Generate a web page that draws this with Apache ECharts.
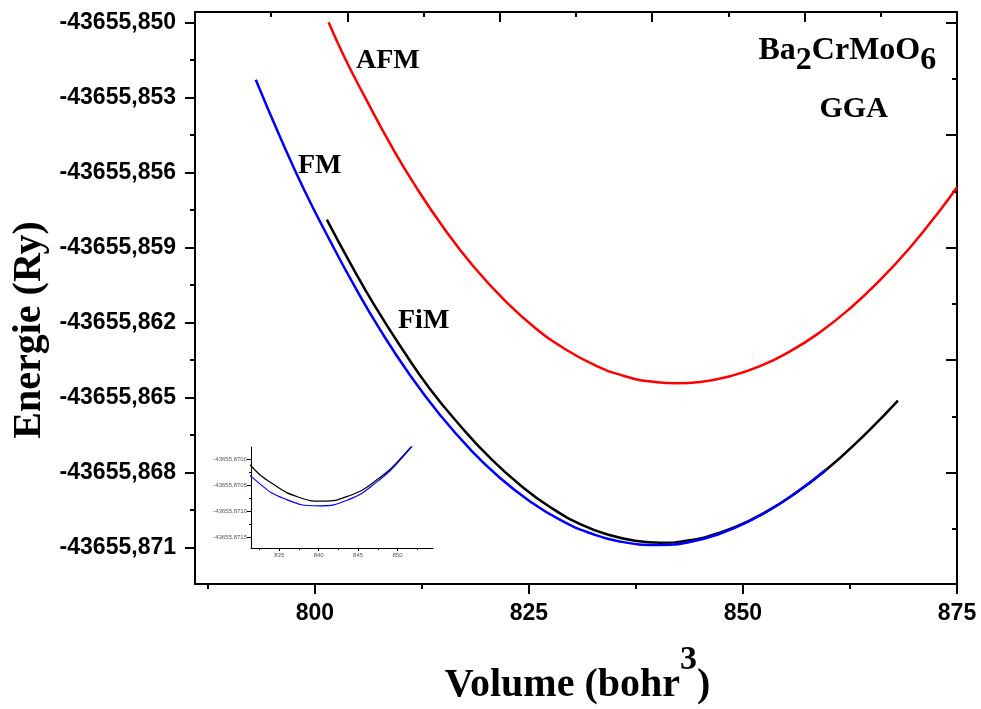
<!DOCTYPE html>
<html>
<head>
<meta charset="utf-8">
<script src="https://cdn.jsdelivr.net/npm/echarts@6/dist/echarts.min.js"></script>
<style>html,body{margin:0;padding:0;background:#fff}#c{width:981px;height:709px}</style>
</head>
<body>
<div id="c"></div>
<script>
// ---- data (volume in bohr^3, energy in Ry) ----
const volFM  = [793.1, 795.9, 798.8, 801.8, 804.7, 807.6, 811.1, 814.6, 818.1, 821.6, 825.1, 828.6, 832.1, 835.6, 840.0, 843.8, 847.3, 850.8, 854.3, 857.8, 859.7];
const eFM    = [-43655.85228, -43655.85454, -43655.85672, -43655.85874, -43655.86058, -43655.86227, -43655.86409, -43655.86568, -43655.86705, -43655.86820, -43655.86914, -43655.86988, -43655.87041, -43655.87075, -43655.87089, -43655.87077, -43655.87044, -43655.86993, -43655.86924, -43655.86839, -43655.86787];
const volFiM = [801.4, 804.1, 807.0, 810.3, 813.4, 817.0, 820.5, 824.0, 827.5, 831.4, 834.5, 837.4, 840.4, 843.8, 847.3, 850.8, 854.3, 857.8, 861.3, 864.8, 868.1];
const eFiM   = [-43655.85788, -43655.85960, -43655.86133, -43655.86310, -43655.86463, -43655.86613, -43655.86742, -43655.86850, -43655.86938, -43655.87012, -43655.87050, -43655.87072, -43655.87080, -43655.87070, -43655.87040, -43655.86991, -43655.86924, -43655.86841, -43655.86742, -43655.86629, -43655.86512];
const volAFM = [801.6, 803.5, 805.9, 808.8, 811.7, 815.2, 818.7, 822.2, 825.7, 829.2, 832.7, 836.2, 839.7, 842.3, 845.0, 848.5, 852.0, 855.5, 859.0, 862.5, 866.0, 869.5, 873.0, 875.0];
const eAFM   = [-43655.84998, -43655.85141, -43655.85301, -43655.85485, -43655.85651, -43655.85828, -43655.85982, -43655.86112, -43655.86220, -43655.86305, -43655.86370, -43655.86414, -43655.86437, -43655.86442, -43655.86437, -43655.86414, -43655.86374, -43655.86315, -43655.86238, -43655.86143, -43655.86030, -43655.85900, -43655.85751, -43655.85658];

const xTickLabels = [800, 825, 850, 875];
const xMinorTicks = [787.5, 812.5, 837.5, 862.5];
const yTickLabels = [-43655.850, -43655.853, -43655.856, -43655.859, -43655.862, -43655.865, -43655.868, -43655.871];
const yMinorTicks = [-43655.8515, -43655.8545, -43655.8575, -43655.8605, -43655.8635, -43655.8665, -43655.8695];
const topMajorTicks = [786, 803.8, 821.6, 839.4, 857.2, 875];
const topMinorTicks = [794.9, 812.7, 830.5, 848.3, 866.1];
const rightMajorTicks = [-43655.850, -43655.8545, -43655.859, -43655.8635, -43655.868, -43655.8725];
const rightMinorTicks = [-43655.85225, -43655.85675, -43655.86125, -43655.86575, -43655.87025];
const insetXTickLabels = [835, 840, 845, 850];
const insetXMinorTicks = [832.5, 837.5, 842.5, 847.5, 852.5];
const insetYTickLabels = [-43655.8700, -43655.8705, -43655.8710, -43655.8715];
const insetYMinorTicks = [-43655.87025, -43655.87075, -43655.87125];

const zip = (a, b) => a.map((v, i) => [v, b[i]]);

const X_MIN = 786, X_MAX = 875;
const Y_MAX = -43655.849572, Y_MIN = -43655.872452;
const IX_MIN = 831.42, IX_MAX = 854.5;
const IY_MIN = -43655.8717, IY_MAX = -43655.86976;

const SANS = '"Liberation Sans", Arial, sans-serif';
const SERIF = '"Liberation Serif", "Times New Roman", serif';

const mctx = document.createElement('canvas').getContext('2d');
function tw(text, font) { mctx.font = font; return mctx.measureText(text).width; }

function ax(extra) {
  return Object.assign({
    type: 'value',
    splitLine: { show: false },
    axisLine: { show: false, onZero: false },
    axisTick: { show: false },
    axisLabel: { show: false }
  }, extra);
}
const mainLine = { show: true, onZero: false, lineStyle: { color: '#000', width: 2 } };
const insetLine = { show: true, onZero: false, lineStyle: { color: '#000', width: 1 } };
function ticks(vals, len, inside, w) {
  return { show: true, customValues: vals, length: len, inside: !!inside, lineStyle: { color: '#000', width: w || 2 } };
}
function txt(text, x, baseline, size, align) {
  return { type: 'text', x: x, y: baseline - 0.3375 * size,
    style: { text: text, font: 'bold ' + size + 'px ' + SERIF, fill: '#000', align: align || 'left', verticalAlign: 'middle' } };
}

// formula Ba2CrMoO6 (subscripts shifted down)
const fF = 'bold 32px ' + SERIF;
const formulaParts = [['Ba', 0], ['2', 10], ['CrMoO', 0], ['6', 10]];
const formula = [];
let fx = 758.5;
formulaParts.forEach(([t, dy]) => { formula.push(txt(t, fx, 62 + dy, 32)); fx += tw(t, fF); });

// x-axis title Volume (bohr^3)
const tF = 'bold 40px ' + SERIF, sF = 'bold 34px ' + SERIF;
const w1 = tw('Volume (bohr', tF), w2 = tw('3', sF), w3 = tw(')', tF);
const tx0 = 577.5 - (w1 + w2 + w3) / 2;
const xTitle = [
  txt('Volume (bohr', tx0, 699, 40),
  txt('3', tx0 + w1, 672, 34),
  txt(')', tx0 + w1 + w2, 699, 40)
];

const option = {
  animation: false,
  backgroundColor: '#fff',
  grid: [
    { left: 195, top: 12, width: 762, height: 572, containLabel: false, outerBoundsMode: 'none' },
    { left: 251, top: 447, width: 182, height: 101, containLabel: false, outerBoundsMode: 'none' }
  ],
  xAxis: [
    ax({ gridIndex: 0, position: 'bottom', min: X_MIN, max: X_MAX, axisLine: mainLine,
         axisTick: ticks(xTickLabels, 10, false),
         axisLabel: { show: true, customValues: xTickLabels, margin: 18, color: '#000',
                      fontFamily: SANS, fontWeight: 'bold', fontSize: 23 } }),
    ax({ gridIndex: 0, position: 'bottom', min: X_MIN, max: X_MAX, axisTick: ticks(xMinorTicks, 5, false) }),
    ax({ gridIndex: 0, position: 'top', min: X_MIN, max: X_MAX, axisLine: mainLine, axisTick: ticks(topMajorTicks, 10, true) }),
    ax({ gridIndex: 0, position: 'top', min: X_MIN, max: X_MAX, axisTick: ticks(topMinorTicks, 5, true) }),
    ax({ gridIndex: 1, position: 'bottom', min: IX_MIN, max: IX_MAX, axisLine: insetLine,
         axisTick: ticks(insetXTickLabels, 3, false, 1),
         axisLabel: { show: true, customValues: insetXTickLabels, margin: 4, color: '#555',
                      fontFamily: SANS, fontSize: 6 } }),
    ax({ gridIndex: 1, position: 'bottom', min: IX_MIN, max: IX_MAX, axisTick: ticks(insetXMinorTicks, 2, false, 1) })
  ],
  yAxis: [
    ax({ gridIndex: 0, position: 'left', min: Y_MIN, max: Y_MAX, axisLine: mainLine,
         axisTick: ticks(yTickLabels, 10, false),
         axisLabel: { show: true, customValues: yTickLabels, margin: 19, color: '#000',
                      fontFamily: SANS, fontWeight: 'bold', fontSize: 23,
                      formatter: v => v.toFixed(3).replace('.', ',') } }),
    ax({ gridIndex: 0, position: 'left', min: Y_MIN, max: Y_MAX, axisTick: ticks(yMinorTicks, 5, false) }),
    ax({ gridIndex: 0, position: 'right', min: Y_MIN, max: Y_MAX, axisLine: mainLine, axisTick: ticks(rightMajorTicks, 11, true) }),
    ax({ gridIndex: 0, position: 'right', min: Y_MIN, max: Y_MAX, axisTick: ticks(rightMinorTicks, 5, true) }),
    ax({ gridIndex: 1, position: 'left', min: IY_MIN, max: IY_MAX, axisLine: insetLine,
         axisTick: ticks(insetYTickLabels, 4, false, 1),
         axisLabel: { show: true, customValues: insetYTickLabels, margin: 4, color: '#555',
                      fontFamily: SANS, fontSize: 6,
                      formatter: v => v.toFixed(4).replace('.', ',') } }),
    ax({ gridIndex: 1, position: 'left', min: IY_MIN, max: IY_MAX, axisTick: ticks(insetYMinorTicks, 2, false, 1) })
  ],
  series: [
    { type: 'line', name: 'FiM', xAxisIndex: 0, yAxisIndex: 0, data: zip(volFiM, eFiM),
      symbol: 'none', smooth: 0.5, lineStyle: { color: '#000000', width: 2.5 }, z: 3 },
    { type: 'line', name: 'FM', xAxisIndex: 0, yAxisIndex: 0, data: zip(volFM, eFM),
      symbol: 'none', smooth: 0.5, lineStyle: { color: '#0000ff', width: 2.5 }, z: 4 },
    { type: 'line', name: 'AFM', xAxisIndex: 0, yAxisIndex: 0, data: zip(volAFM, eAFM),
      symbol: 'none', smooth: 0.5, lineStyle: { color: '#ff0000', width: 2.5 }, z: 4 },
    { type: 'line', name: 'FiM (inset)', xAxisIndex: 4, yAxisIndex: 4, data: zip(volFiM, eFiM),
      symbol: 'none', smooth: 0.5, clip: true, lineStyle: { color: '#000000', width: 1.2 }, z: 3 },
    { type: 'line', name: 'FM (inset)', xAxisIndex: 4, yAxisIndex: 4, data: zip(volFM, eFM),
      symbol: 'none', smooth: 0.5, clip: true, lineStyle: { color: '#0000ff', width: 1.2 }, z: 4 }
  ],
  graphic: [
    txt('AFM', 356, 70, 28),
    txt('FM', 298, 175, 28),
    txt('FiM', 398, 330, 28),
    txt('GGA', 819.5, 119, 30)
  ].concat(formula, xTitle, [
    { type: 'text', x: 30, y: 330, rotation: Math.PI / 2,
      style: { text: 'Energie (Ry)', font: 'bold 40px ' + SERIF, fill: '#000', align: 'center', verticalAlign: 'middle' } }
  ])
};

const chart = echarts.init(document.getElementById('c'), null, { renderer: 'canvas' });
chart.setOption(option);
</script>
</body>
</html>
